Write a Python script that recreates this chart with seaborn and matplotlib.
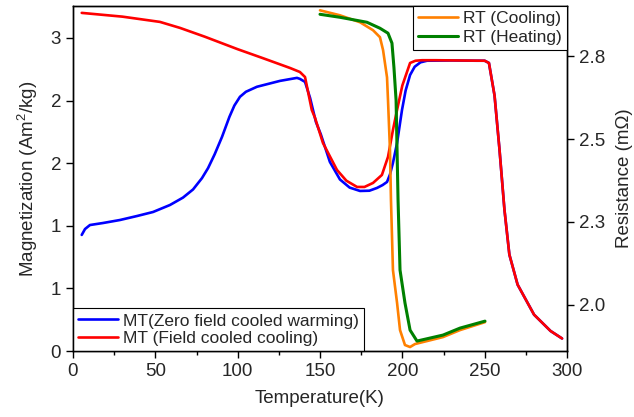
import numpy as np
import pandas as pd
import matplotlib
matplotlib.use("Agg")
import matplotlib.pyplot as plt
import seaborn as sns

# ---- data ----
zfc_T = [5.3, 7.3, 10.3, 18.2, 28.5, 38.9, 48.6, 58.9, 66.8, 72.9, 78.3, 82.0, 86.0, 90.5,
         95.0, 98.0, 101.4, 105.0, 111.7, 125.7, 136.0, 137.8, 140.9, 144.0, 147.5, 150.5,
         156.0, 162.1, 168.0, 174.3, 180.0, 184.6, 188.0, 190.7, 192.5, 194.3, 196.8, 199.8,
         202.0, 204.7, 207.5, 211.0, 215.0, 230.0, 245.0, 250.0, 252.6, 256.0, 259.0, 262.0,
         265.0, 270.0, 280.0, 290.0, 297.0]
zfc_M = [0.927, 0.974, 1.006, 1.022, 1.046, 1.078, 1.110, 1.166, 1.225, 1.290, 1.380, 1.460,
         1.570, 1.710, 1.870, 1.960, 2.030, 2.070, 2.110, 2.157, 2.181, 2.173, 2.149, 2.020,
         1.830, 1.730, 1.510, 1.370, 1.305, 1.278, 1.280, 1.302, 1.325, 1.350, 1.410, 1.502,
         1.661, 1.925, 2.080, 2.204, 2.270, 2.305, 2.318, 2.320, 2.318, 2.318, 2.300, 2.040,
         1.610, 1.130, 0.770, 0.530, 0.290, 0.160, 0.100]

fc_T = [5.3, 30.0, 52.8, 65.0, 80.0, 100.0, 115.0, 131.8, 137.8, 140.9, 145.0, 147.0, 151.8,
        160.3, 166.0, 172.5, 177.0, 182.2, 187.6, 191.3, 194.3, 196.8, 200.0, 204.7, 208.0,
        212.0, 220.0, 235.0, 250.0, 252.6, 256.0, 259.0, 262.0, 265.0, 270.0, 280.0, 290.0,
        297.0]
fc_M = [2.700, 2.670, 2.628, 2.580, 2.510, 2.410, 2.340, 2.260, 2.228, 2.188, 1.925, 1.861,
        1.661, 1.446, 1.360, 1.310, 1.310, 1.342, 1.406, 1.550, 1.765, 1.925, 2.120, 2.300,
        2.318, 2.322, 2.322, 2.320, 2.318, 2.300, 2.040, 1.610, 1.130, 0.770, 0.530, 0.290,
        0.160, 0.100]

cool_T = [150.0, 162.1, 174.3, 182.2, 186.4, 188.3, 190.7, 191.3, 192.5, 193.1, 194.3, 196.8,
          198.6, 201.6, 204.7, 207.7, 215.0, 224.7, 235.0, 250.2]
cool_R = [2.888, 2.873, 2.852, 2.828, 2.807, 2.768, 2.686, 2.617, 2.466, 2.316, 2.105, 2.006,
          1.924, 1.879, 1.873, 1.882, 1.891, 1.903, 1.924, 1.948]

heat_T = [150.0, 162.1, 178.5, 186.4, 191.3, 193.7, 194.9, 196.2, 196.8, 197.4, 198.6, 201.6,
          204.7, 208.9, 216.8, 224.7, 235.0, 250.2]
heat_R = [2.876, 2.867, 2.852, 2.834, 2.819, 2.789, 2.716, 2.617, 2.466, 2.316, 2.105, 2.006,
          1.924, 1.891, 1.900, 1.909, 1.930, 1.951]

left_ticks = [0, 0.5, 1.0, 1.5, 2.0, 2.5]
left_labels = ["0", "1", "1", "2", "2", "3"]
right_ticks = [2.0, 2.25, 2.5, 2.75]
right_labels = ["2.0", "2.3", "2.5", "2.8"]
x_ticks = [0, 50, 100, 150, 200, 250, 300]

# ---- style ----
sns.set_style("ticks")
plt.rcParams["font.family"] = ["Liberation Sans", "DejaVu Sans"]
plt.rcParams["mathtext.fontset"] = "custom"
plt.rcParams["mathtext.rm"] = "Liberation Sans"
plt.rcParams["mathtext.default"] = "regular"
plt.rcParams["axes.linewidth"] = 1.0
plt.rcParams["xtick.direction"] = "out"
plt.rcParams["ytick.direction"] = "out"

fig = plt.figure(figsize=(6.34, 4.17), dpi=100)
ax = fig.add_axes([73 / 634, 1 - 351 / 417, (567 - 73) / 634, (351 - 6) / 417])
ax2 = ax.twinx()

zfc = pd.DataFrame({"T": zfc_T, "M": zfc_M})
fc = pd.DataFrame({"T": fc_T, "M": fc_M})
cool = pd.DataFrame({"T": cool_T, "R": cool_R})
heat = pd.DataFrame({"T": heat_T, "R": heat_R})

lw = 1.9
sns.lineplot(data=zfc, x="T", y="M", ax=ax, color="#0000ff", lw=lw, sort=False,
             label="MT(Zero field cooled warming)")
sns.lineplot(data=fc, x="T", y="M", ax=ax, color="#ff0000", lw=lw, sort=False,
             label="MT (Field cooled cooling)")
sns.lineplot(data=cool, x="T", y="R", ax=ax2, color="#ff8000", lw=lw, sort=False,
             label="RT (Cooling)")
sns.lineplot(data=heat, x="T", y="R", ax=ax2, color="#008000", lw=2.2, sort=False,
             label="RT (Heating)")

fs = 13.5
ax.set_xlim(0, 300)
ax.set_ylim(0, 2.755)
ax2.set_ylim(1.861, 2.901)
ax.set_xticks(x_ticks)
ax.set_xticks(np.arange(25, 300, 50), minor=True)
ax.set_yticks(left_ticks)
ax.set_yticklabels(left_labels)
ax2.set_yticks(right_ticks)
ax2.set_yticklabels(right_labels)
ax.tick_params(axis="both", which="major", labelsize=fs, length=5, width=1, color="black")
ax.tick_params(axis="x", which="minor", length=3, width=1, color="black")
ax2.tick_params(axis="y", which="major", labelsize=fs, length=5, width=1, color="black")

ax.set_xlabel("Temperature(K)", fontsize=fs, labelpad=7)
ax.set_ylabel("Magnetization (Am$^2$/kg)", fontsize=fs, labelpad=8)
ax2.set_ylabel("Resistance (m\u03a9)", fontsize=fs, labelpad=8)

for a in (ax, ax2):
    for s in a.spines.values():
        s.set_color("black")
        s.set_linewidth(1.0)

leg1 = ax.legend(loc="lower left", fontsize=12.5, frameon=True, fancybox=False,
                 edgecolor="black", borderaxespad=0, handlelength=2.3,
                 handletextpad=0.3, borderpad=0.3, labelspacing=0.12)
leg1.get_frame().set_linewidth(0.8)
leg1.get_frame().set_alpha(1)
leg2 = ax2.legend(loc="upper right", fontsize=12.5, frameon=True, fancybox=False,
                  edgecolor="black", borderaxespad=0, handlelength=2.3,
                  handletextpad=0.3, borderpad=0.3, labelspacing=0.2)
leg2.get_frame().set_linewidth(0.8)
leg2.get_frame().set_alpha(1)

fig.savefig("out.png", dpi=100)
